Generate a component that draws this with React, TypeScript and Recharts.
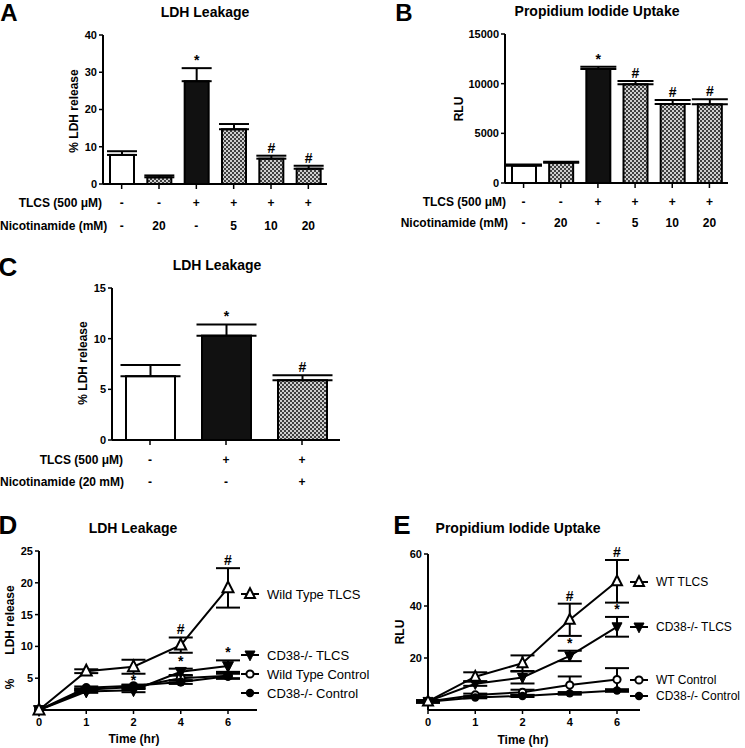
import React from 'react';
import { BarChart, Bar, XAxis, YAxis, ErrorBar, LineChart, Line } from 'recharts';

const FONT = '"Liberation Sans", Arial, Helvetica, sans-serif';

// ---- Panel A: LDH leakage vs nicotinamide dose
const tlcsA = ['-', '-', '+', '+', '+', '+'];
const nicoA = ['-', '20', '-', '5', '10', '20'];
const ldhA = [7.8, 1.8, 27.6, 14.7, 6.8, 4.1];
const ldhErrA = [1.0, 0.5, 3.5, 1.4, 0.8, 0.8];
const marksA = ['', '', '*', '', '#', '#'];

// ---- Panel B: propidium iodide uptake vs nicotinamide dose
const tlcsB = ['-', '-', '+', '+', '+', '+'];
const nicoB = ['-', '20', '-', '5', '10', '20'];
const rluB = [1740, 2040, 11480, 9940, 7950, 7920];
const rluErrB = [130, 100, 230, 320, 400, 500];
const marksB = ['', '', '*', '#', '#', '#'];

// ---- Panel C: LDH leakage, nicotinamide 20 mM
const tlcsC = ['-', '+', '+'];
const nicoC = ['-', '-', '+'];
const ldhC = [6.3, 10.3, 5.9];
const ldhErrC = [1.1, 1.1, 0.5];
const marksC = ['', '*', '#'];

// ---- Panel D: LDH leakage time course
const timesD = ['0', '1', '2', '4', '6'];
const wtTlcsD = [0, 6.1, 6.8, 10.2, 19.2];
const wtTlcsErrD = [0, 0.3, 1.1, 1.2, 3.1];
const cdTlcsD = [0, 2.9, 3.1, 6.0, 6.9];
const cdTlcsErrD = [0, 0.2, 0.3, 0.5, 0.9];
const wtCtrlD = [0, 3.2, 3.6, 5.0, 5.4];
const wtCtrlErrD = [0, 0.2, 0.3, 0.4, 0.4];
const cdCtrlD = [0, 3.5, 3.8, 4.4, 5.3];
const cdCtrlErrD = [0, 0.2, 0.2, 0.3, 0.4];
const hashD = ['', '', '', '#', '#'];
const starD = ['', '', '*', '*', '*'];
const namesD = ['Wild Type TLCS', 'CD38-/- TLCS', 'Wild Type Control', 'CD38-/- Control'];

// ---- Panel E: PI uptake time course
const timesE = ['0', '1', '2', '4', '6'];
const wtTlcsE = [3.3, 12.8, 18.0, 34.7, 49.5];
const wtTlcsErrE = [0.5, 1.7, 3.0, 6.2, 8.2];
const cdTlcsE = [3.3, 10.1, 12.5, 20.8, 32.0];
const cdTlcsErrE = [0.4, 0.8, 2.3, 2.0, 3.8];
const wtCtrlE = [3.3, 5.8, 6.8, 9.6, 11.7];
const wtCtrlErrE = [0.3, 0.5, 1.0, 3.3, 4.4];
const cdCtrlE = [3.2, 4.8, 5.4, 6.4, 7.5];
const cdCtrlErrE = [0.3, 0.3, 0.4, 0.5, 0.5];
const hashE = ['', '', '', '#', '#'];
const starE = ['', '', '', '*', '*'];
const namesE = ['WT TLCS', 'CD38-/- TLCS', 'WT Control', 'CD38-/- Control'];

const kinds = ['triUp', 'triDown', 'circOpen', 'circFill'];

type TxtProps = {
  x: number;
  y: number;
  children: React.ReactNode;
  size?: number;
  bold?: boolean;
  anchor?: 'start' | 'middle' | 'end';
  rotate?: boolean;
  lh?: number;
};

function Txt({ x, y, children, size = 12, bold = true, anchor = 'middle', rotate = false, lh = 1 }: TxtProps) {
  const tx = anchor === 'start' ? '0' : anchor === 'end' ? '-100%' : '-50%';
  return (
    <div
      style={{
        position: 'absolute',
        left: x,
        top: y,
        fontSize: size,
        fontWeight: bold ? 700 : 400,
        lineHeight: lh,
        whiteSpace: 'pre',
        color: '#000',
        transform: rotate ? 'translate(-50%,-50%) rotate(-90deg)' : `translate(${tx},-50%)`,
      }}
    >
      {children}
    </div>
  );
}

// panel letter: tight line box so the glyph sits flush with its box
const Letter = ({ x, y, children, size = 26 }: { x: number; y: number; children: string; size?: number }) => (
  <Txt x={x} y={y} size={size} lh={0.8}>
    {children}
  </Txt>
);

// bar fill follows treatment: nothing = white, TLCS alone = black, nicotinamide = checker
const barFill = (tlcs: string, nico: string, pid: string) =>
  nico !== '-' ? `url(#${pid})` : tlcs === '+' ? '#111' : '#fff';

type BarPanelProps = {
  pid: string;
  left: number;
  top: number;
  width: number;
  height: number;
  margin: { top: number; right: number; left: number; bottom: number };
  yWidth: number;
  domain: [number, number];
  ticks: number[];
  tlcs: string[];
  nico: string[];
  values: number[];
  errors: number[];
  marks: string[];
  barSize: number;
  cap: number;
  rowOff: [number, number];
};

function BarPanel(p: BarPanelProps) {
  const data = p.values.map((v, i) => ({
    cat: `${p.tlcs[i]}|${p.nico[i]}`,
    v,
    e: p.errors[i],
    eRange: [0, p.errors[i]],
    mark: p.marks[i],
    tlcs: p.tlcs[i],
    nico: p.nico[i],
  }));

  const shape = (s: any) => {
    const { x, y, width, height, payload } = s;
    const perUnit = payload.v > 0 ? height / payload.v : 0;
    const errTop = y - payload.e * perUnit;
    return (
      <g>
        <rect
          x={x}
          y={y}
          width={width}
          height={height}
          fill={barFill(payload.tlcs, payload.nico, p.pid)}
          stroke="#000"
          strokeWidth={2}
        />
        {payload.mark ? (
          <text x={x + width / 2} y={errTop - 3} textAnchor="middle" fontSize={14} fontWeight={700} fontFamily={FONT} fill="#000">
            {payload.mark}
          </text>
        ) : null}
      </g>
    );
  };

  const tick = (t: any) => {
    const [a, b] = String(t.payload.value).split('|');
    return (
      <g>
        <text x={t.x} y={t.y + p.rowOff[0]} textAnchor="middle" dominantBaseline="central" fontSize={12} fontWeight={700} fontFamily={FONT} fill="#000">
          {a}
        </text>
        <text x={t.x} y={t.y + p.rowOff[1]} textAnchor="middle" dominantBaseline="central" fontSize={12} fontWeight={700} fontFamily={FONT} fill="#000">
          {b}
        </text>
      </g>
    );
  };

  return (
    <div style={{ position: 'absolute', left: p.left, top: p.top }}>
      <BarChart width={p.width} height={p.height} data={data} margin={p.margin}>
        <defs>
          <pattern id={p.pid} width="4" height="4" patternUnits="userSpaceOnUse">
            <rect width="4" height="4" fill="#cfcfcf" />
            <rect width="2" height="2" fill="#404040" />
            <rect x="2" y="2" width="2" height="2" fill="#404040" />
          </pattern>
        </defs>
        <XAxis
          dataKey="cat"
          interval={0}
          height={50}
          tickSize={5}
          tickMargin={2}
          tick={tick}
          axisLine={{ stroke: '#000', strokeWidth: 2 }}
          tickLine={{ stroke: '#000', strokeWidth: 1.5 }}
        />
        <YAxis
          width={p.yWidth}
          domain={p.domain}
          ticks={p.ticks}
          interval={0}
          tickSize={4}
          tickMargin={2}
          tick={{ fill: '#000', fontSize: 11, fontWeight: 700, fontFamily: FONT }}
          axisLine={{ stroke: '#000', strokeWidth: 2 }}
          tickLine={{ stroke: '#000', strokeWidth: 1.5 }}
        />
        <Bar dataKey="v" barSize={p.barSize} shape={shape} isAnimationActive={false}>
          <ErrorBar dataKey="eRange" width={p.cap} strokeWidth={2} stroke="#000" direction="y" />
        </Bar>
      </BarChart>
    </div>
  );
}

function drawMarker(kind: string, cx: number, cy: number, key: string, s: number) {
  if (kind === 'triUp')
    return (
      <path key={key} d={`M${cx},${cy - s * 0.58} L${cx + s / 2},${cy + s * 0.4} L${cx - s / 2},${cy + s * 0.4}Z`} fill="#fff" stroke="#000" strokeWidth={2} />
    );
  if (kind === 'triDown')
    return (
      <path key={key} d={`M${cx},${cy + s * 0.58} L${cx + s / 2},${cy - s * 0.4} L${cx - s / 2},${cy - s * 0.4}Z`} fill="#000" stroke="#000" strokeWidth={1} />
    );
  if (kind === 'circOpen') return <circle key={key} cx={cx} cy={cy} r={s * 0.36} fill="#fff" stroke="#000" strokeWidth={2} />;
  return <circle key={key} cx={cx} cy={cy} r={s * 0.42} fill="#000" />;
}

const makeDot = (kind: string, s: number) => (d: any) => {
  const k = `${kind}-${d.index}`;
  if (d.cx == null || d.cy == null) return <g key={k} />;
  return drawMarker(kind, d.cx, d.cy, k, s);
};

const makeMark = (field: string) => (d: any) => {
  const k = `${field}-${d.index}`;
  if (d.cx == null || d.cy == null || !d.payload || !d.payload[field]) return <g key={k} />;
  return (
    <text key={k} x={d.cx} y={d.cy - 3} textAnchor="middle" fontSize={14} fontWeight={700} fontFamily={FONT} fill="#000">
      {d.payload[field]}
    </text>
  );
};

type LinePanelProps = {
  left: number;
  top: number;
  width: number;
  height: number;
  margin: { top: number; right: number; left: number; bottom: number };
  yWidth: number;
  padRight: number;
  domain: [number, number];
  ticks: number[];
  times: string[];
  series: number[][];
  errs: number[][];
  hash: string[];
  star: string[];
  size: number;
};

function LinePanel(p: LinePanelProps) {
  const data = p.times.map((t, i) => ({
    t,
    s0: p.series[0][i],
    e0: p.errs[0][i],
    s1: p.series[1][i],
    e1: p.errs[1][i],
    s2: p.series[2][i],
    e2: p.errs[2][i],
    s3: p.series[3][i],
    e3: p.errs[3][i],
    hashAt: p.hash[i] ? p.series[0][i] + p.errs[0][i] : null,
    hashTxt: p.hash[i],
    starAt: p.star[i] ? p.series[1][i] + p.errs[1][i] : null,
    starTxt: p.star[i],
  }));

  const tick = (t: any) => (
    <text x={t.x} y={t.y + 8} textAnchor="middle" dominantBaseline="central" fontSize={11} fontWeight={700} fontFamily={FONT} fill="#000">
      {t.payload.value}
    </text>
  );

  // draw controls first, TLCS lines on top
  const order = [2, 3, 1, 0];

  return (
    <div style={{ position: 'absolute', left: p.left, top: p.top }}>
      <LineChart width={p.width} height={p.height} data={data} margin={p.margin}>
        <XAxis
          dataKey="t"
          interval={0}
          height={30}
          padding={{ left: 0, right: p.padRight }}
          tickSize={4}
          tickMargin={0}
          tick={tick}
          axisLine={{ stroke: '#000', strokeWidth: 2 }}
          tickLine={{ stroke: '#000', strokeWidth: 1.5 }}
        />
        <YAxis
          width={p.yWidth}
          type="number"
          domain={p.domain}
          ticks={p.ticks}
          interval={0}
          tickSize={4}
          tickMargin={2}
          tick={{ fill: '#000', fontSize: 11, fontWeight: 700, fontFamily: FONT }}
          axisLine={{ stroke: '#000', strokeWidth: 2 }}
          tickLine={{ stroke: '#000', strokeWidth: 1.5 }}
        />
        {order.map((i) => (
          <Line
            key={`s${i}`}
            dataKey={`s${i}`}
            stroke="#000"
            strokeWidth={2}
            dot={makeDot(kinds[i], p.size)}
            activeDot={false}
            isAnimationActive={false}
          >
            <ErrorBar dataKey={`e${i}`} width={12} strokeWidth={2} stroke="#000" direction="y" />
          </Line>
        ))}
        <Line dataKey="hashAt" stroke="none" dot={makeMark('hashTxt')} activeDot={false} isAnimationActive={false} />
        <Line dataKey="starAt" stroke="none" dot={makeMark('starTxt')} activeDot={false} isAnimationActive={false} />
      </LineChart>
    </div>
  );
}

function LegendList({ names, x, textX, ys, size, font }: { names: string[]; x: number; textX: number; ys: number[]; size: number; font: number }) {
  return (
    <>
      {names.map((n, i) => (
        <React.Fragment key={n}>
          <svg style={{ position: 'absolute', left: x - 10, top: ys[i] - 8 }} width={20} height={16}>
            <line x1={1} y1={8} x2={19} y2={8} stroke="#000" strokeWidth={2} />
            {drawMarker(kinds[i], 10, 8, `lg-${i}`, size)}
          </svg>
          <Txt x={textX} y={ys[i]} size={font} bold={false} anchor="start">
            {n}
          </Txt>
        </React.Fragment>
      ))}
    </>
  );
}

export default function App() {
  return (
    <div
      style={{
        position: 'absolute',
        left: 0,
        top: 0,
        width: 745,
        height: 748,
        background: '#fff',
        overflow: 'hidden',
        fontFamily: FONT,
      }}
    >
      {/* A */}
      <BarPanel
        pid="chkA"
        left={0}
        top={0}
        width={340}
        height={240}
        margin={{ top: 35, right: 13, left: 73, bottom: 6 }}
        yWidth={30}
        domain={[0, 40]}
        ticks={[0, 10, 20, 30, 40]}
        tlcs={tlcsA}
        nico={nicoA}
        values={ldhA}
        errors={ldhErrA}
        marks={marksA}
        barSize={24}
        cap={15}
        rowOff={[12, 35]}
      />
      <Letter x={9} y={12.7} size={24}>A</Letter>
      <Txt x={205} y={12} size={14}>LDH Leakage</Txt>
      <Txt x={74} y={111} rotate>% LDH release</Txt>
      <Txt x={102} y={203} anchor="end">TLCS (500 μM)</Txt>
      <Txt x={0} y={226} anchor="start">Nicotinamide (mM)</Txt>

      {/* B */}
      <BarPanel
        pid="chkB"
        left={380}
        top={0}
        width={360}
        height={240}
        margin={{ top: 34, right: 12, left: 85, bottom: 7 }}
        yWidth={40}
        domain={[0, 15000]}
        ticks={[0, 5000, 10000, 15000]}
        tlcs={tlcsB}
        nico={nicoB}
        values={rluB}
        errors={rluErrB}
        marks={marksB}
        barSize={24}
        cap={18}
        rowOff={[12, 33]}
      />
      <Letter x={404} y={12.7} size={24}>B</Letter>
      <Txt x={597} y={11} size={14}>Propidium Iodide Uptake</Txt>
      <Txt x={459} y={109} rotate>RLU</Txt>
      <Txt x={506} y={202} anchor="end">TLCS (500 μM)</Txt>
      <Txt x={508} y={223} anchor="end">Nicotinamide (mM)</Txt>

      {/* C */}
      <BarPanel
        pid="chkC"
        left={0}
        top={270}
        width={360}
        height={230}
        margin={{ top: 18, right: 20, left: 82, bottom: 10 }}
        yWidth={30}
        domain={[0, 15]}
        ticks={[0, 5, 10, 15]}
        tlcs={tlcsC}
        nico={nicoC}
        values={ldhC}
        errors={ldhErrC}
        marks={marksC}
        barSize={49}
        cap={30}
        rowOff={[13, 35]}
      />
      <Letter x={8} y={267}>C</Letter>
      <Txt x={217} y={265} size={14}>LDH Leakage</Txt>
      <Txt x={83} y={363} rotate>% LDH release</Txt>
      <Txt x={123} y={460} anchor="end">TLCS (500 μM)</Txt>
      <Txt x={0} y={482} anchor="start">Nicotinamide (20 mM)</Txt>

      {/* D */}
      <LinePanel
        left={0}
        top={530}
        width={370}
        height={218}
        margin={{ top: 21, right: 113, left: 14, bottom: 8 }}
        yWidth={25}
        padRight={29}
        domain={[0, 25]}
        ticks={[5, 10, 15, 20, 25]}
        times={timesD}
        series={[wtTlcsD, cdTlcsD, wtCtrlD, cdCtrlD]}
        errs={[wtTlcsErrD, cdTlcsErrD, wtCtrlErrD, cdCtrlErrD]}
        hash={hashD}
        star={starD}
        size={11}
      />
      <Letter x={8} y={525}>D</Letter>
      <Txt x={133} y={528} size={14}>LDH Leakage</Txt>
      <Txt x={10} y={620} rotate>LDH release</Txt>
      <Txt x={10} y={684} rotate>%</Txt>
      <Txt x={134} y={739}>Time (hr)</Txt>
      <LegendList names={namesD} x={250} textX={267} ys={[594, 655, 674, 693]} size={10} font={13} />

      {/* E */}
      <LinePanel
        left={370}
        top={530}
        width={375}
        height={218}
        margin={{ top: 24, right: 105, left: 33, bottom: 8 }}
        yWidth={25}
        padRight={23}
        domain={[0, 60]}
        ticks={[20, 40, 60]}
        times={timesE}
        series={[wtTlcsE, cdTlcsE, wtCtrlE, cdCtrlE]}
        errs={[wtTlcsErrE, cdTlcsErrE, wtCtrlErrE, cdCtrlErrE]}
        hash={hashE}
        star={starE}
        size={10}
      />
      <Letter x={402} y={525}>E</Letter>
      <Txt x={518} y={528} size={14}>Propidium Iodide Uptake</Txt>
      <Txt x={400} y={632} rotate>RLU</Txt>
      <Txt x={523} y={740}>Time (hr)</Txt>
      <LegendList names={namesE} x={639} textX={656} ys={[582, 627, 680, 696]} size={10} font={12} />
    </div>
  );
}
